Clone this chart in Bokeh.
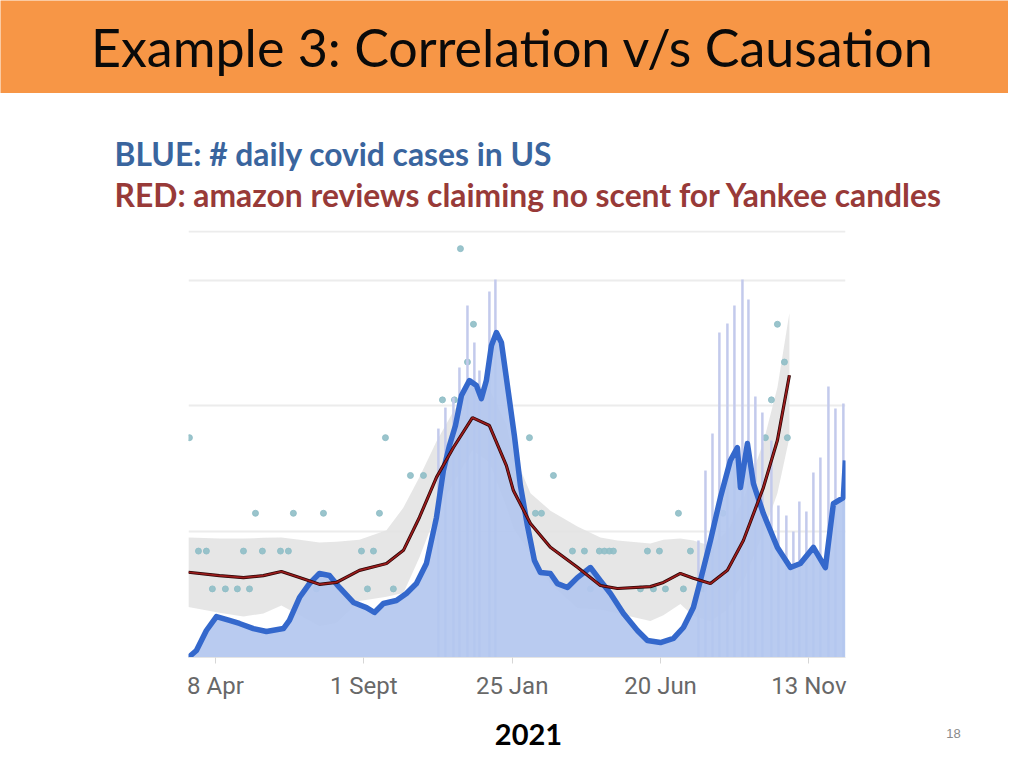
from bokeh.plotting import figure
from bokeh.layouts import column
from bokeh.models import Range1d, FixedTicker, Label, Grid, ColumnDataSource
from bokeh.core.properties import value
from bokeh.embed import file_html
from bokeh.resources import INLINE

# ---------------- data ----------------
title_text = "Example 3: Correlation v/s Causation"
subtitle_blue = "BLUE: # daily covid cases in US"
subtitle_red = "RED: amazon reviews claiming no scent for Yankee candles"
footer_year = "2021"
page_number = "18"

# x = days since 8 Apr 2020
tick_days = [0, 146, 292, 438, 584]
tick_labels = ["8 Apr", "1 Sept", "25 Jan", "20 Jun", "13 Nov"]

# 7-day average US covid cases (thousands)
cases_day = [-26.6, -18.7, -8.9, 1.0, 13.8, 23.6, 37.4, 50.2, 66.9, 72.8, 82.7, 92.5,
             102.3, 112.2, 122.0, 135.8, 148.6, 156.5, 165.3, 178.1, 187.9, 197.8, 207.6,
             217.5, 224.3, 230.3, 236.2, 242.1, 249.9, 256.8, 261.7, 266.6, 271.6, 276.5,
             281.4, 288.3, 294.2, 300.1, 307.0, 313.9, 319.8, 329.6, 336.5, 346.4, 356.2,
             369.0, 378.8, 388.7, 401.5, 415.2, 425.1, 437.9, 450.7, 460.5, 470.3, 477.2,
             487.1, 496.9, 506.7, 513.6, 516.6, 523.5, 529.4, 539.2, 553.0, 565.8, 575.6,
             588.4, 600.2, 608.1, 617.9, 619.9]
cases_k = [0, 5.4, 20.7, 31.4, 28.4, 26.1, 22.2, 19.9, 22.2, 28.4, 46.0, 56.7,
           64.4, 62.9, 53.7, 42.2, 38.3, 34.5, 41.4, 43.7, 49.1, 56.7, 72.1,
           107.4, 143.4, 162.6, 177.9, 200.9, 212.4, 208.6, 198.6, 212.4, 239.3, 249.2,
           241.6, 203.2, 170.0, 131.9, 101.2, 74.4, 65.2, 64.4, 56.7, 53.7, 61.3,
           69.0, 59.0, 49.1, 33.7, 20.7, 13.0, 11.5, 14.6, 23.0, 38.3, 59.0,
           89.7, 122.7, 151.1, 161.0, 130.4, 164.1, 133.4, 110.4, 84.4, 69.0, 72.1,
           84.4, 69.0, 118.1, 122.7, 151.1]

# daily reported spikes (thousands)
spike_day = [219.4, 226.3, 234.2, 240.1, 248.0, 254.8, 259.8, 269.6, 275.5,
             475.3, 482.2, 489.1, 495.9, 503.8, 510.7, 518.6, 524.5, 531.3, 538.2,
             547.1, 554.0, 561.8, 568.7, 574.6, 581.5, 588.4, 595.3, 603.2, 610.1, 617.9]
spike_k = [175.6, 191.7, 199.4, 222.4, 269.9, 241.6, 220.1, 280.7, 289.9,
           89.7, 143.4, 171.8, 249.2, 256.1, 269.9, 289.9, 274.5, 200.2, 187.9,
           166.4, 116.6, 108.9, 96.6, 119.6, 112.0, 141.9, 153.4, 207.8, 191.0, 194.8]

# smoothed "no scent" reviews per day, with confidence band
red_day = [-26.6, 3.9, 27.6, 47.2, 64.9, 82.7, 102.3, 119.0, 141.7, 168.3, 185.0,
           200.7, 217.5, 234.2, 252.9, 269.6, 286.3, 293.2, 310.0, 329.6, 356.2,
           378.8, 395.6, 428.0, 440.8, 457.5, 470.3, 487.1, 503.8, 519.5, 539.2,
           553.0, 564.8]
red_level = [2.44, 2.35, 2.30, 2.35, 2.46, 2.30, 2.12, 2.17, 2.49, 2.67, 3.02,
             3.89, 4.95, 5.74, 6.53, 6.32, 5.26, 4.60, 3.73, 3.10, 2.57,
             2.09, 2.01, 2.06, 2.17, 2.41, 2.28, 2.14, 2.49, 3.28, 4.68,
             5.93, 7.65]
band_hi = [3.36, 3.33, 3.33, 3.35, 3.36, 3.30, 3.23, 3.25, 3.30, 3.55, 4.15,
           4.95, 5.90, 6.70, 7.40, 7.30, 6.36, 5.60, 4.53, 4.07, 3.65,
           3.36, 3.28, 3.20, 3.30, 3.33, 3.28, 3.14, 3.54, 4.38, 5.88,
           7.33, 9.30]
band_lo = [1.52, 1.37, 1.27, 1.35, 1.56, 1.30, 1.01, 1.09, 1.68, 1.79, 1.89,
           2.83, 4.00, 4.78, 5.66, 5.34, 4.16, 3.60, 2.93, 2.13, 1.49,
           1.45, 1.35, 1.15, 1.30, 1.60, 1.28, 1.14, 1.44, 2.18, 3.48,
           4.53, 6.00]

# daily review counts (dots)
dot_day = [-25.6, -16.7, -8.9, -3.0, 9.8, 21.6, 33.5, 27.6, 46.2, 64.0, 71.8, 39.4,
           76.7, 106.3, 161.4, 99.4, 143.7, 155.5, 149.6, 175.1, 167.3, 191.9, 204.7,
           223.4, 235.2, 248.0, 253.9, 241.1, 309.0, 332.6, 314.9, 320.8, 351.3, 363.1,
           377.8, 382.8, 387.7, 391.6, 369.0, 425.1, 436.9, 418.2, 431.0, 442.8, 455.6,
           460.5, 467.4, 480.2, 541.2, 562.8, 547.1, 559.9, 553.0, 499.4, 487.1]
dot_level = [6, 3, 3, 2, 2, 2, 2, 3, 3, 3, 3, 4,
             4, 4, 4, 2, 3, 3, 2, 2, 6, 5, 5,
             7, 7, 8, 9, 11, 6, 5, 4, 4, 3, 3,
             3, 3, 3, 3, 2, 3, 3, 2, 2, 2, 4,
             2, 3, 2, 6, 6, 7, 8, 9, 4, 3]

grid_k = [96.5, 193.0, 289.5, 327.0]

# ---------------- styles ----------------
W = 1008
ORANGE = "#f79646"
TITLE_FONT = "Lato"


def blank(h, bg="white"):
    f = figure(width=W, height=h, x_range=Range1d(0, W), y_range=Range1d(0, h),
               x_axis_type=None, y_axis_type=None, min_border=0,
               toolbar_location=None, output_backend="svg",
               outline_line_color=None, background_fill_color=bg,
               border_fill_color=bg, frame_align=False)
    f.grid.visible = False
    return f


# header (0..93)
ph = blank(93, ORANGE)
ph.add_layout(Label(x=512, y=47, text=title_text, text_align="center",
                    text_baseline="middle", text_font=TITLE_FONT,
                    text_font_size="52px", text_color="#0a0a0a"))

# subtitles (93..225)
ps = blank(132)
ps.add_layout(Label(x=114, y=72, text=subtitle_blue, text_align="left",
                    text_baseline="middle", text_font=TITLE_FONT, text_font_style="bold",
                    text_font_size="31.8px", text_color="#3a659e"))
ps.add_layout(Label(x=114, y=31, text=subtitle_red, text_align="left",
                    text_baseline="middle", text_font=TITLE_FONT, text_font_style="bold",
                    text_font_size="31.8px", text_color="#983a38"))

# chart (225..705)
pc = figure(width=W, height=480, x_range=Range1d(-26.5, 620), y_range=Range1d(0, 327.5),
            min_border_left=188, min_border_right=163, min_border_top=5,
            min_border_bottom=48, y_axis_location=None, frame_align=False,
            toolbar_location=None, output_backend="svg", outline_line_color=None)
pc.extra_y_ranges = {"rev": Range1d(0.185, 11.48)}
pc.grid.visible = False
pc.add_layout(Grid(dimension=1, ticker=FixedTicker(ticks=grid_k),
                   grid_line_color="#ececec", grid_line_width=2))

band_src = ColumnDataSource(dict(x=red_day, lo=band_lo, hi=band_hi, y=red_level))
pc.varea(x="x", y1="lo", y2="hi", source=band_src, fill_color="#e3e3e3",
         fill_alpha=0.9, y_range_name="rev")
pc.scatter(dot_day, dot_level, size=6, color="#8fbec6", alpha=0.9,
           y_range_name="rev")
pc.segment(x0=spike_day, y0=[0] * len(spike_day), x1=spike_day, y1=spike_k,
           line_color="#c3caec", line_width=2.5)
pc.varea(x=cases_day, y1=[0] * len(cases_day), y2=cases_k, fill_color="#b3c7ef",
         fill_alpha=0.92)
pc.line(cases_day, cases_k, line_color="#3468cc", line_width=5.5,
        line_join="round")
pc.line(x="x", y="y", source=band_src, line_color="#2a0505", line_width=3.2,
        y_range_name="rev")
pc.line(x="x", y="y", source=band_src, line_color="#9a1c1c", line_width=1.7,
        y_range_name="rev")

ax = pc.xaxis[0]
ax.ticker = FixedTicker(ticks=tick_days)
ax.major_label_overrides = {d: l for d, l in zip(tick_days, tick_labels)}
ax.axis_line_color = "#e4e4e4"
ax.major_tick_line_color = "#d6d6d6"
ax.major_tick_out = 6
ax.major_tick_in = 0
ax.minor_tick_line_color = None
ax.major_label_text_font = "Roboto"
ax.major_label_text_font_size = "24px"
ax.major_label_text_color = "#686868"
ax.major_label_standoff = 8

# footer (705..752)
pf = blank(47)
pf.add_layout(Label(x=528, y=18, text=footer_year, text_align="center",
                    text_baseline="middle", text_font=TITLE_FONT, text_font_style="bold",
                    text_font_size="29px", text_color="#000000"))
pf.add_layout(Label(x=953, y=19, text=page_number, text_align="center",
                    text_baseline="middle", text_font="Liberation Sans",
                    text_font_size="13px", text_color="#8a8a8a"))

layout = column(ph, ps, pc, pf, spacing=0)
open("out.html", "w").write(file_html(layout, INLINE))
